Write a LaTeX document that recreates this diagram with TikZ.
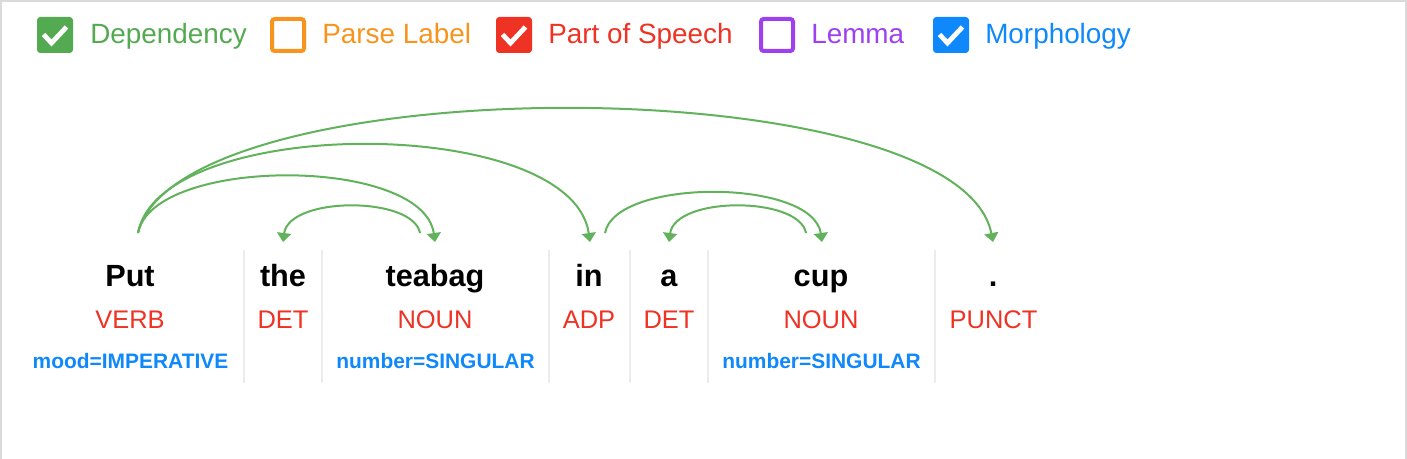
\documentclass[tikz,border=0pt]{standalone}
\usepackage{fontspec}
\setmainfont{Liberation Sans}
\usetikzlibrary{arrows.meta}
\definecolor{cgreen}{RGB}{83,170,80}
\definecolor{carc}{RGB}{98,178,92}
\definecolor{corange}{RGB}{247,148,30}
\definecolor{cred}{RGB}{238,50,36}
\definecolor{cpurple}{RGB}{158,64,238}
\definecolor{cblue}{RGB}{14,136,250}
\definecolor{csep}{RGB}{236,236,236}
\definecolor{cborder}{RGB}{218,218,218}
\begin{document}
\begin{tikzpicture}[x=0.75pt,y=-0.75pt,
  legtext/.style={anchor=base west, inner sep=0pt, font=\fontsize{20.9}{24}\selectfont},
  word/.style={anchor=base, inner sep=0pt, font=\fontsize{23}{27}\selectfont\bfseries},
  postag/.style={anchor=base, inner sep=0pt, text=cred, font=\fontsize{19.1}{22}\selectfont},
  morph/.style={anchor=base, inner sep=0pt, text=cblue, font=\fontsize{15.7}{19}\selectfont\bfseries},
  sepline/.style={draw=csep, line width=1.2pt},
  dep/.style={draw=carc, line width=1.5pt, -{Triangle[width=10.5pt,length=6.75pt]}},
  fillbox/.style={shape=rectangle, inner sep=0pt, minimum width=27pt, minimum height=27pt, rounded corners=2.5pt},
  linebox/.style={shape=rectangle, inner sep=0pt, minimum width=24pt, minimum height=24pt, line width=3pt, rounded corners=2pt, fill=white},
  checkmark/.style={draw=white, line width=3.6pt},
]
\path[use as bounding box] (0,0) rectangle (1407,459);
\draw[cborder, line width=1.5pt] (1406,459) -- (1406,1) -- (1,1) -- (1,459);

% legend
\node[fillbox, fill=cgreen] (cb1) at (55,35) {};
\draw[checkmark] (cb1.center) ++(-11.5,-0.5) -- ++(8,8.5) -- ++(15,-16);
\node[legtext, text=cgreen] (lg1) at (90,43.5) {Dependency};
\node[linebox, draw=corange] (cb2) at (288,35) {};
\node[legtext, text=corange] (lg2) at (322,43.5) {Parse Label};
\node[fillbox, fill=cred] (cb3) at (514,35) {};
\draw[checkmark] (cb3.center) ++(-11.5,-0.5) -- ++(8,8.5) -- ++(15,-16);
\node[legtext, text=cred] (lg3) at (548,43.5) {Part of Speech};
\node[linebox, draw=cpurple] (cb4) at (777,35) {};
\node[legtext, text=cpurple] (lg4) at (811,43.5) {Lemma};
\node[fillbox, fill=cblue] (cb5) at (951,35) {};
\draw[checkmark] (cb5.center) ++(-11.5,-0.5) -- ++(8,8.5) -- ++(15,-16);
\node[legtext, text=cblue] (lg5) at (985,43.5) {Morphology};

% separators
\foreach \sx in {244,322,549,630,708,935}{
  \draw[sepline] (\sx,250) -- (\sx,383);
}

% words
\node[word] (w1) at (130,286.5) {Put};
\node[word] (w2) at (283,286.5) {the};
\node[word] (w3) at (435,286.5) {teabag};
\node[word] (w4) at (589,286.5) {in};
\node[word] (w5) at (669,286.5) {a};
\node[word] (w6) at (821,286.5) {cup};
\node[word] (w7) at (993,286.5) {.};

% POS
\node[postag] (p1) at (130,328.5) {VERB};
\node[postag] (p2) at (283,328.5) {DET};
\node[postag] (p3) at (435,328.5) {NOUN};
\node[postag] (p4) at (589,328.5) {ADP};
\node[postag] (p5) at (669,328.5) {DET};
\node[postag] (p6) at (821,328.5) {NOUN};
\node[postag] (p7) at (993.5,328.5) {PUNCT};

% morphology
\node[morph] (m1) at (130.5,368.5) {mood=IMPERATIVE};
\node[morph] (m3) at (435.5,368.5) {number=SINGULAR};
\node[morph] (m6) at (821.5,368.5) {number=SINGULAR};

% arc anchors
\coordinate (w1o) at (138,233);
\coordinate (w3o) at (420,233);
\coordinate (w4o) at (605,233);
\coordinate (w6o) at (806,233);
\coordinate (w2i) at (283,242);
\coordinate (w3i) at (435,242);
\coordinate (w4i) at (590,242);
\coordinate (w5i) at (669,242);
\coordinate (w6i) at (822,242);
\coordinate (w7i) at (993,242);

% dependency arcs
\draw[dep] (w1o) .. controls +(15,-77) and +(-12,-86) .. (w3i);
\draw[dep] (w1o) .. controls +(22,-119) and +(-18,-128) .. (w4i);
\draw[dep] (w1o) .. controls +(40,-167) and +(-34,-176) .. (w7i);
\draw[dep] (w3o) .. controls +(-7,-37) and +(6,-46) .. (w2i);
\draw[dep] (w4o) .. controls +(10,-55) and +(-9,-64) .. (w6i);
\draw[dep] (w6o) .. controls +(-7,-37) and +(6,-46) .. (w5i);
\end{tikzpicture}
\end{document}
